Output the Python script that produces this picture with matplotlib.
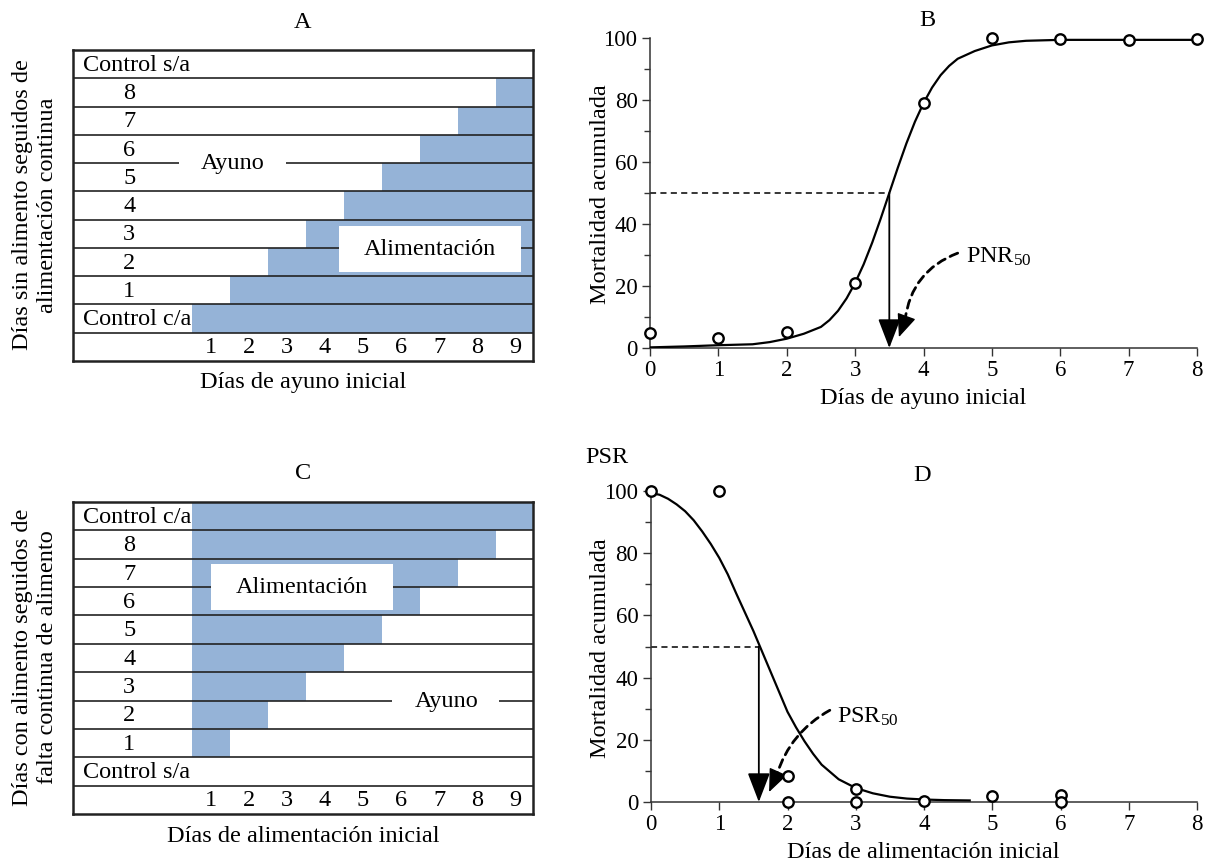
import matplotlib.pyplot as plt
from matplotlib.patches import Rectangle
from matplotlib.ticker import MultipleLocator

plt.rcParams["font.family"] = ["Liberation Serif", "DejaVu Serif"]
plt.rcParams["mathtext.fontset"] = "custom"
plt.rcParams["mathtext.rm"] = "Liberation Serif"
plt.rcParams["mathtext.it"] = "Liberation Serif"

W, H = 1224, 865
BLUE = "#95b3d7"
LINE = "#222222"
AX = "#333333"
FS = 17.5   # textos
FT = 16.5   # números de ejes

# --- panel A / C: diseño experimental ---
days_col = [1, 2, 3, 4, 5, 6, 7, 8, 9]
a_rows = ["Control s/a", "8", "7", "6", "5", "4", "3", "2", "1", "Control c/a"]
a_fast_days = [9, 8, 7, 6, 5, 4, 3, 2, 1, 0]
c_rows = ["Control c/a", "8", "7", "6", "5", "4", "3", "2", "1", "Control s/a"]
c_feed_days = [9, 8, 7, 6, 5, 4, 3, 2, 1, 0]

# --- panel B: PNR ---
b_days = [0, 1, 2, 3, 4, 5, 6, 7, 8]
b_mort = [5.0, 3.2, 5.2, 21.0, 79.0, 100.0, 99.7, 99.4, 99.6]
b_fit_x = [0, 0.5, 1, 1.5, 1.75, 2, 2.25, 2.5, 2.625, 2.75, 2.875, 3, 3.125,
           3.25, 3.375, 3.5, 3.625, 3.75, 3.875, 4, 4.125, 4.25, 4.375, 4.5,
           4.75, 5, 5.25, 5.5, 6, 7, 8]
b_fit_y = [0.2, 0.5, 0.9, 1.2, 1.9, 3.0, 4.6, 6.8, 9.0, 12.0, 16.0, 21.0, 27.0,
           34.0, 41.8, 50.0, 58.2, 66.0, 73.0, 79.0, 84.0, 88.0, 91.0, 93.3,
           95.8, 97.6, 98.6, 99.1, 99.4, 99.4, 99.4]
pnr50 = 3.5

# --- panel D: PSR ---
d_days = [0, 1, 2, 2, 3, 3, 4, 5, 6, 6]
d_mort = [100.0, 100.0, 8.3, 0.0, 4.2, 0.0, 0.3, 2.0, 2.2, 0.0]
d_fit_x = [0, 0.125, 0.25, 0.375, 0.5, 0.625, 0.75, 0.875, 1.0, 1.125, 1.25,
           1.375, 1.5, 1.625, 1.75, 1.875, 2.0, 2.125, 2.25, 2.375, 2.5, 2.75,
           3.0, 3.25, 3.5, 3.75, 4.0, 4.3, 4.67]
d_fit_y = [99.3, 98.8, 97.5, 95.7, 93.5, 90.6, 87.0, 83.0, 78.5, 73.2, 67.0,
           61.0, 55.0, 48.5, 42.0, 35.5, 29.0, 24.0, 19.5, 15.5, 12.0, 7.3,
           4.5, 2.8, 1.7, 1.1, 0.8, 0.6, 0.5]
psr50 = 1.58


def box(x0, y0, x1, y1):
    return [x0 / W, 1 - y1 / H, (x1 - x0) / W, (y1 - y0) / H]


def ftext(fig, x, y, s, **kw):
    kw.setdefault("ha", "center")
    kw.setdefault("va", "center")
    kw.setdefault("fontsize", FS)
    fig.text(x / W, 1 - y / H, s, **kw)


def draw_table(ax, labels, lefts, widths):
    n = len(labels)
    ys = [n + 0.5 - i for i in range(n)]
    ax.barh(ys, widths, left=lefts, height=1.0, color=BLUE, lw=0, zorder=1)
    ax.set_xlim(-2.63, 9.47)
    ax.set_ylim(0, n + 1)
    ax.hlines(range(1, n + 1), -2.63, 9.47, color=LINE, lw=1.2, zorder=3)
    for lab, y in zip(labels, ys):
        if lab.startswith("Control"):
            ax.text(-2.37, y - 0.04, lab, ha="left", va="center", fontsize=FS, zorder=5)
        else:
            ax.text(-1.15, y - 0.04, lab, ha="center", va="center", fontsize=FS, zorder=5)
    for d in days_col:
        ax.text(d, 0.46, str(d), ha="center", va="center", fontsize=FS)
    ax.set_xticks([])
    ax.set_yticks([])
    for sp in ax.spines.values():
        sp.set_linewidth(1.8)
        sp.set_color(LINE)
        sp.set_zorder(6)


def label_box(ax, x, y, w, h, s, tx, ty):
    ax.add_patch(Rectangle((x, y), w, h, fc="white", ec="none", zorder=4))
    ax.text(tx, ty, s, ha="center", va="center", fontsize=FS, zorder=5)


def style_curve_axes(ax):
    ax.set_xlim(0, 8)
    ax.set_ylim(0, 100)
    ax.set_xticks(range(0, 9))
    ax.set_yticks(range(0, 101, 20))
    ax.yaxis.set_minor_locator(MultipleLocator(10))
    for s in ("top", "right"):
        ax.spines[s].set_visible(False)
    for s in ("left", "bottom"):
        ax.spines[s].set_color(AX)
        ax.spines[s].set_linewidth(1.1)
    ax.tick_params(which="major", length=6, width=1, color=AX, labelsize=FT, pad=3)
    ax.tick_params(which="minor", length=4, width=1, color=AX)
    ax.patch.set_visible(False)


def dashed_pointer(ax, start, tip, back, rad):
    # tramo discontinuo curvo + punta sólida
    ax.annotate("", xy=back, xytext=start,
                arrowprops=dict(arrowstyle="-", color="black", lw=2,
                                ls=(0, (3, 2)), shrinkA=0, shrinkB=0,
                                connectionstyle=f"arc3,rad={rad}"))
    ax.annotate("", xy=tip, xytext=back,
                arrowprops=dict(arrowstyle="-|>,head_length=1.2,head_width=0.5",
                                color="black", lw=1, shrinkA=0, shrinkB=0,
                                mutation_scale=12))


def drop_arrow(ax, x50):
    ax.plot([0, x50], [50, 50], color="black", lw=1.1, ls=(0, (4, 2.8)))
    ax.annotate("", xy=(x50, 0), xytext=(x50, 50),
                arrowprops=dict(arrowstyle="-|>,head_length=1.3,head_width=0.5",
                                color="black", lw=1.3, shrinkA=0, shrinkB=0,
                                mutation_scale=14))


fig = plt.figure(figsize=(12.24, 8.65), dpi=100)

# A
axA = fig.add_axes(box(73, 50, 533, 361))
draw_table(axA, a_rows, [f + 0.5 for f in a_fast_days], [9 - f for f in a_fast_days])
label_box(axA, 0.16, 6.8, 2.82, 0.4, "Ayuno", 1.57, 6.97)
label_box(axA, 4.37, 3.15, 4.79, 1.62, "Alimentación", 6.77, 3.94)
ftext(fig, 303, 23, "A")
ftext(fig, 303, 383, "Días de ayuno inicial")
ftext(fig, 35, 205, "Días sin alimento seguidos de\nalimentación continua", rotation=90)

# C
axC = fig.add_axes(box(73, 502, 533, 814))
draw_table(axC, c_rows, [0.5] * len(c_feed_days), c_feed_days)
label_box(axC, 5.77, 3.8, 2.81, 0.4, "Ayuno", 7.19, 3.97)
label_box(axC, 1.0, 7.19, 4.79, 1.62, "Alimentación", 3.4, 7.98)
ftext(fig, 303, 474, "C")
ftext(fig, 303, 837, "Días de alimentación inicial")
ftext(fig, 35, 657, "Días con alimento seguidos de\nfalta continua de alimento", rotation=90)

# B
axB = fig.add_axes(box(650, 38, 1197, 348))
style_curve_axes(axB)
axB.plot(b_fit_x, b_fit_y, color="black", lw=1.6, zorder=3)
axB.plot(b_days, b_mort, "o", ms=7.5, mfc="white", mec="black", mew=1.7,
         clip_on=False, zorder=5)
drop_arrow(axB, pnr50)
dashed_pointer(axB, (4.5, 30.6), (3.64, 3.5), (3.73, 9.0), 0.3)
axB.text(4.62, 29.4, r"PNR$_{\mathrm{50}}$", ha="left", va="center", fontsize=FS)
ftext(fig, 927, 21, "B")
ftext(fig, 923, 399, "Días de ayuno inicial")
ftext(fig, 600, 194, "Mortalidad acumulada", rotation=90)

# D
axD = fig.add_axes(box(651, 491, 1197, 802))
style_curve_axes(axD)
axD.plot(d_fit_x, d_fit_y, color="black", lw=1.6, zorder=3)
axD.plot(d_days, d_mort, "o", ms=7.5, mfc="white", mec="black", mew=1.7,
         clip_on=False, zorder=5)
drop_arrow(axD, psr50)
dashed_pointer(axD, (2.62, 29.5), (1.73, 3.2), (1.84, 8.6), 0.2)
axD.text(2.72, 27.3, r"PSR$_{\mathrm{50}}$", ha="left", va="center", fontsize=FS)
ftext(fig, 607, 458, "PSR")
ftext(fig, 922, 476, "D")
ftext(fig, 923, 853, "Días de alimentación inicial")
ftext(fig, 600, 648, "Mortalidad acumulada", rotation=90)

fig.savefig("out.png", dpi=100)
